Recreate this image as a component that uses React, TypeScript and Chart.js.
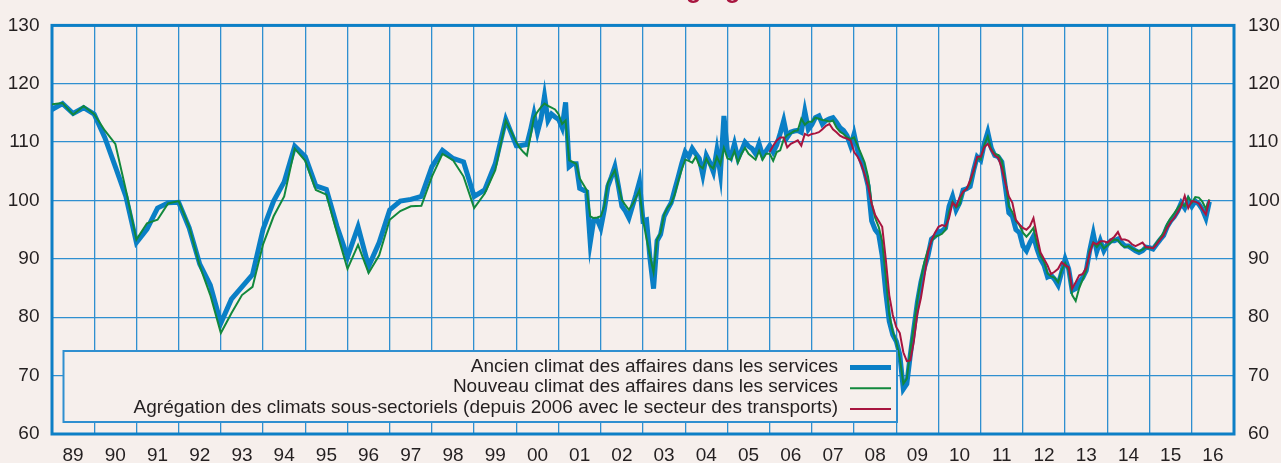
import { useEffect, useRef } from 'react';
import { Chart, registerables } from 'chart.js';

Chart.register(...registerables);

// ---- Data ----
const yearLabels = ['89', '90', '91', '92', '93', '94', '95', '96', '97', '98', '99', '00', '01', '02',
  '03', '04', '05', '06', '07', '08', '09', '10', '11', '12', '13', '14', '15', '16'];
const yTickValues = [60, 70, 80, 90, 100, 110, 120, 130];
const legendLabels = [
  'Ancien climat des affaires dans les services',
  'Nouveau climat des affaires dans les services',
  'Agrégation des climats sous-sectoriels (depuis 2006 avec le secteur des transports)',
];
const titleFragment = 'Agrégation';

const firstYear = 1989;
const monthlyStartYear = 2000;
const aggregationStartYear = 2006;

// Quarterly 1989Q1 - 1999Q4
const ancienTrim = [
  115.6, 116.6, 114.9, 115.9,
  114.8, 110.8, 105.8, 100.7,
  92.8, 95.1, 98.7, 99.6,
  99.7, 95.3, 89.1, 85.5,
  79.0, 83.1, 85.2, 87.3,
  95.1, 99.9, 103.2, 109.3,
  107.5, 102.5, 101.9, 95.6,
  90.3, 95.5, 88.7, 92.8,
  98.4, 99.9, 100.2, 100.7,
  105.8, 108.6, 107.2, 106.6,
  100.7, 101.8, 106.3, 113.9,
];
const nouveauTrim = [
  116.5, 116.7, 114.7, 116.2,
  114.8, 112.0, 109.7, 101.8,
  93.3, 96.1, 96.7, 99.5,
  99.9, 95.5, 88.8, 83.8,
  77.3, 80.7, 83.8, 85.2,
  92.5, 97.3, 100.7, 108.9,
  106.8, 101.8, 101.0, 94.5,
  88.3, 92.4, 87.6, 90.6,
  96.7, 98.2, 99.0, 99.1,
  104.1, 108.0, 106.9, 104.1,
  98.7, 101.2, 105.2, 113.7,
];

// Monthly 2000-01 - 2016-06
const ancienMensuel = [
  109.4, 109.4, 109.5, 109.6, 112.0, 114.8, 111.7, 114.0, 117.9, 113.7, 114.8, 114.3,
  113.9, 112.5, 116.8, 105.8, 106.3, 106.3, 102.1, 101.8, 101.5, 92.8, 96.7, 96.7,
  95.3, 98.4, 102.4, 104.0, 105.8, 102.5, 99.0, 98.2, 97.0, 99.0, 101.0, 103.2,
  96.5, 96.7, 90.0, 84.9, 93.1, 94.2, 97.3, 98.5, 99.6, 101.8, 104.0, 106.3,
  108.3, 107.5, 108.9, 108.0, 107.2, 104.4, 107.7, 106.5, 104.9, 108.6, 104.6, 114.5,
  108.5, 107.5, 109.7, 107.2, 108.5, 110.0, 109.3, 108.9, 108.0, 109.7, 107.7, 108.5,
  109.4, 108.3, 109.5, 111.5, 113.7, 110.8, 111.7, 111.9, 112.0, 111.7, 115.3, 112.2,
  113.0, 114.2, 114.5, 113.1, 113.7, 114.0, 114.2, 113.4, 112.5, 112.0, 111.1, 109.4,
  111.4, 108.6, 106.8, 105.0, 102.5, 96.5, 95.0, 94.2, 90.5, 84.3, 79.3, 77.0,
  75.9, 73.6, 67.7, 68.6, 73.6, 78.1, 82.6, 86.0, 88.5, 90.5, 93.4, 93.9,
  94.6, 94.8, 95.3, 99.0, 100.7, 98.4, 99.6, 101.8, 102.0, 102.4, 105.2, 107.5,
  106.9, 109.7, 111.7, 109.0, 107.7, 107.5, 106.6, 102.4, 97.9, 97.3, 95.0, 94.5,
  92.2, 91.4, 92.8, 93.9, 91.7, 90.0, 88.9, 86.9, 87.2, 86.5, 85.5, 87.7,
  90.0, 88.3, 84.6, 84.9, 86.0, 86.8, 88.0, 91.5, 94.3, 91.3, 93.1, 91.4,
  92.5, 93.1, 93.1, 93.4, 92.8, 92.2, 92.2, 91.8, 91.4, 91.1, 91.4, 92.0,
  91.9, 91.7, 92.5, 93.3, 94.0, 95.5, 96.5, 97.2, 98.2, 99.6, 98.7, 100.1,
  99.0, 99.9, 99.4, 98.5, 97.0, 99.8,
];
const nouveauMensuel = [
  110.0, 109.0, 108.3, 107.7, 111.0, 114.2, 115.2, 116.0, 116.6, 116.2, 115.9, 115.6,
  114.8, 113.1, 113.7, 106.9, 106.6, 106.3, 103.8, 102.8, 101.8, 97.3, 97.0, 97.1,
  97.3, 99.0, 103.0, 104.1, 105.2, 102.6, 100.1, 99.2, 98.4, 99.3, 100.5, 101.8,
  96.7, 93.5, 90.5, 87.7, 93.3, 94.5, 97.6, 98.8, 99.5, 101.0, 103.3, 105.3,
  107.0, 106.8, 106.5, 107.5, 106.0, 105.5, 107.2, 106.0, 105.5, 107.5, 106.2, 109.0,
  107.2, 107.0, 108.5, 106.5, 108.0, 109.0, 108.0, 107.5, 107.0, 108.5, 107.0, 108.0,
  108.0, 106.8, 108.3, 108.6, 110.5, 111.2, 111.5, 111.9, 112.0, 114.0, 113.0, 113.5,
  113.5, 114.2, 114.0, 113.8, 113.7, 113.5, 113.7, 112.5, 111.8, 111.4, 110.8, 110.5,
  110.8, 109.4, 108.0, 106.5, 104.0, 99.5, 97.0, 95.5, 93.0, 87.0, 80.5, 77.5,
  75.8, 73.0, 68.6, 69.5, 74.5, 78.5, 83.0, 86.5, 89.5, 91.5, 93.0, 93.8,
  94.0, 94.3, 95.0, 98.0, 99.8, 98.8, 99.3, 101.5, 102.0, 103.0, 105.0, 107.3,
  107.0, 109.5, 111.0, 108.8, 108.0, 107.8, 106.8, 103.5, 99.0, 98.0, 96.5, 95.8,
  94.5, 93.8, 94.5, 95.3, 92.5, 90.5, 89.5, 87.5, 87.0, 86.8, 86.0, 88.0,
  89.3, 88.0, 83.8, 82.8, 85.0, 86.5, 88.0, 91.5, 92.8, 92.0, 92.8, 91.8,
  92.3, 92.8, 93.3, 93.2, 92.4, 92.0, 92.2, 91.8, 91.5, 91.3, 91.6, 92.0,
  91.8, 91.9, 92.8, 93.6, 94.5, 96.0, 97.0, 97.8, 98.7, 99.5, 99.0, 100.6,
  99.6, 100.6, 100.5, 99.8, 98.6, 100.2,
];
// Monthly 2006-01 - 2016-06
const agregationMensuel = [
  108.3, 109.4, 110.3, 110.8, 110.8, 109.1, 109.7, 110.0, 110.3, 109.4, 111.4, 111.1,
  111.4, 111.5, 111.7, 112.2, 112.8, 113.1, 112.2, 111.7, 111.1, 110.8, 110.6, 110.3,
  108.3, 107.5, 106.3, 104.5, 102.4, 99.5, 97.5, 96.5, 95.5, 90.0, 83.8, 80.4,
  78.3, 77.3, 74.0, 72.5, 72.6, 75.9, 80.6, 83.3, 87.0, 91.0, 93.2, 94.5,
  95.5, 95.8, 95.6, 97.0, 99.6, 99.0, 100.5, 101.5, 102.0, 103.5, 105.2, 107.5,
  107.5, 109.1, 109.7, 108.6, 107.7, 107.3, 105.5, 103.0, 100.7, 99.6, 96.7, 95.9,
  95.3, 95.0, 95.6, 97.0, 93.9, 91.1, 90.0, 88.9, 87.4, 87.8, 88.3, 89.4,
  88.9, 88.6, 84.9, 86.0, 87.2, 87.4, 88.5, 91.0, 92.8, 92.5, 93.0, 93.0,
  92.8, 93.3, 93.8, 94.6, 93.3, 93.3, 93.1, 92.5, 92.2, 92.5, 92.8, 92.0,
  92.0, 91.8, 92.5, 93.3, 94.0, 95.3, 96.3, 97.0, 98.0, 99.0, 100.8, 98.7,
  99.9, 99.8, 99.5, 98.5, 97.6, 100.1,
];

// ---- Styles ----
const BG = '#f6efec';
const GRID = '#2f8fd0';
const FRAME = '#0d7fc6';
const BLUE = '#0a7fc6';
const GREEN = '#12883c';
const RED = '#a8153f';
const TEXT = '#231f20';
const FONT = '"Liberation Sans", Arial, Helvetica, sans-serif';

function toPoints(values: number[], start: number, perYear: number) {
  return values.map((v, i) => ({ x: start + i / perYear, y: v }));
}

const backgroundPlugin = {
  id: 'bg',
  beforeDraw(chart: any) {
    const { ctx, width, height } = chart;
    ctx.save();
    ctx.fillStyle = BG;
    ctx.fillRect(0, 0, width, height);
    ctx.restore();
  },
};

const framePlugin = {
  id: 'frame',
  beforeDatasetsDraw(chart: any) {
    const { ctx, chartArea } = chart;
    ctx.save();
    ctx.strokeStyle = FRAME;
    ctx.lineWidth = 3;
    ctx.strokeRect(chartArea.left, chartArea.top, chartArea.right - chartArea.left, chartArea.bottom - chartArea.top);
    ctx.restore();
  },
};

const legendBoxPlugin = {
  id: 'legendBox',
  afterDatasetsDraw(chart: any) {
    const { ctx, chartArea } = chart;
    const left = chartArea.left + 11.5;
    const right = chartArea.left + 845;
    const top = chartArea.bottom - 83;
    const bottom = chartArea.bottom - 12;
    ctx.save();
    ctx.fillStyle = BG;
    ctx.fillRect(left, top, right - left, bottom - top);
    ctx.strokeStyle = GRID;
    ctx.lineWidth = 2;
    ctx.strokeRect(left, top, right - left, bottom - top);
    ctx.font = `19px ${FONT}`;
    ctx.textAlign = 'right';
    ctx.textBaseline = 'middle';
    const textRight = chartArea.left + 786;
    const sampleL = chartArea.left + 798;
    const sampleR = chartArea.left + 839;
    chart.data.datasets.forEach((ds: any, i: number) => {
      const y = top + 15.5 + i * 20.7;
      ctx.fillStyle = TEXT;
      ctx.fillText(ds.label, textRight, y);
      ctx.strokeStyle = ds.borderColor;
      ctx.lineWidth = ds.borderWidth;
      ctx.beginPath();
      ctx.moveTo(sampleL, y + 1);
      ctx.lineTo(sampleR, y + 1);
      ctx.stroke();
    });
    ctx.restore();
  },
};

const titlePlugin = {
  id: 'cutTitle',
  afterDraw(chart: any) {
    const { ctx } = chart;
    ctx.save();
    ctx.font = `bold 25px ${FONT}`;
    ctx.fillStyle = RED;
    ctx.textAlign = 'left';
    ctx.textBaseline = 'alphabetic';
    ctx.fillText(titleFragment, 668, -2);
    ctx.restore();
  },
};

export default function App() {
  const canvasRef = useRef<HTMLCanvasElement | null>(null);

  useEffect(() => {
    const canvas = canvasRef.current;
    if (!canvas) return;
    const tickFont = { family: FONT, size: 19 };
    const chart = new Chart(canvas, {
      type: 'line',
      data: {
        datasets: [
          {
            label: legendLabels[0],
            data: [...toPoints(ancienTrim, firstYear, 4), ...toPoints(ancienMensuel, monthlyStartYear, 12)],
            borderColor: BLUE,
            borderWidth: 5,
            order: 3,
          },
          {
            label: legendLabels[1],
            data: [...toPoints(nouveauTrim, firstYear, 4), ...toPoints(nouveauMensuel, monthlyStartYear, 12)],
            borderColor: GREEN,
            borderWidth: 2,
            order: 2,
          },
          {
            label: legendLabels[2],
            data: toPoints(agregationMensuel, aggregationStartYear, 12),
            borderColor: RED,
            borderWidth: 2,
            order: 1,
          },
        ],
      },
      options: {
        animation: false,
        responsive: false,
        maintainAspectRatio: false,
        layout: { padding: { top: 20, left: 0, right: 0, bottom: 0 } },
        elements: {
          point: { radius: 0, hoverRadius: 0 },
          line: { tension: 0, borderJoinStyle: 'miter', fill: false },
        },
        plugins: {
          legend: { display: false },
          tooltip: { enabled: false },
          title: { display: false },
        },
        scales: {
          x: {
            type: 'linear',
            position: 'bottom',
            min: firstYear,
            max: firstYear + yearLabels.length,
            afterBuildTicks: (s: any) => {
              s.ticks = [...yearLabels, ''].map((_, i) => ({ value: firstYear + i }));
            },
            afterFit: (s: any) => { s.height = 29; },
            grid: { color: GRID, lineWidth: 1.3, drawTicks: false },
            border: { display: false },
            ticks: {
              autoSkip: false,
              maxRotation: 0,
              minRotation: 0,
              labelOffset: 21.1,
              padding: 10,
              color: TEXT,
              font: tickFont,
              callback: (v: any) => yearLabels[Math.round(Number(v) - firstYear)] ?? '',
            },
          },
          y: {
            position: 'left',
            min: 60,
            max: 130,
            afterBuildTicks: (s: any) => { s.ticks = yTickValues.map((v) => ({ value: v })); },
            afterFit: (s: any) => { s.width = 52; },
            grid: { color: GRID, lineWidth: 1.3, drawTicks: false },
            border: { display: false },
            ticks: { padding: 12.5, color: TEXT, font: tickFont },
          },
          y2: {
            position: 'right',
            min: 60,
            max: 130,
            afterBuildTicks: (s: any) => { s.ticks = yTickValues.map((v) => ({ value: v })); },
            afterFit: (s: any) => { s.width = 47; },
            grid: { display: false, drawTicks: false },
            border: { display: false },
            ticks: { padding: 14, color: TEXT, font: tickFont },
          },
        },
      },
      plugins: [backgroundPlugin, framePlugin, legendBoxPlugin, titlePlugin],
    } as any);
    return () => chart.destroy();
  }, []);

  return (
    <div style={{ position: 'absolute', left: 0, top: 0, width: 1281, height: 463, background: BG }}>
      <canvas ref={canvasRef} width={1281} height={463} style={{ display: 'block' }} />
    </div>
  );
}
